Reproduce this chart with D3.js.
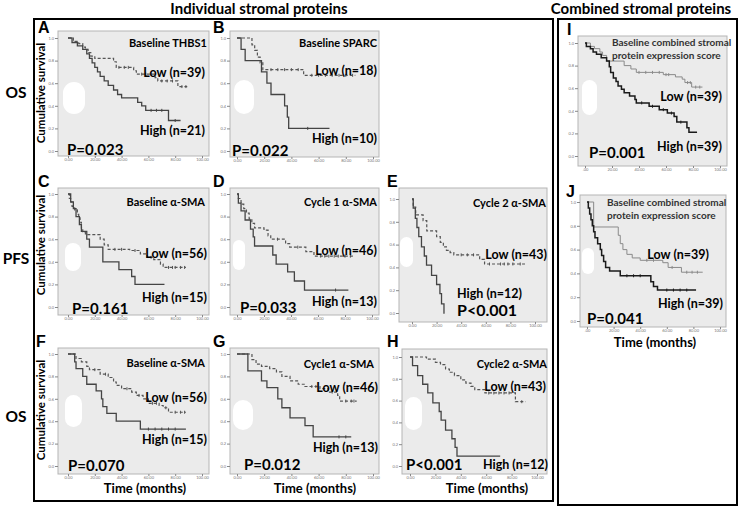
<!DOCTYPE html>
<html>
<head>
<meta charset="utf-8">
<script src="https://cdn.jsdelivr.net/npm/d3@7"></script>
<style>
  body { margin: 0; background: #fff; }
  text { font-family: Lato, "Open Sans", sans-serif; font-weight: 700; }
</style>
</head>
<body>
<div id="chart"></div>
<script>
var width = 739, height = 507;

// axis ticks
var xTicks = [0, 20, 40, 60, 80, 100];
var yTicks = [0, 0.2, 0.4, 0.6, 0.8, 1.0];

// Kaplan-Meier steps: [time (months), cumulative survival], last point = end of follow-up
// A  OS  baseline THBS1
var aLow = [[0,1],[4,0.97],[8,0.95],[11,0.92],[13,0.9],[15,0.87],[17,0.84],[20,0.82],[34,0.79],[36,0.74],[49,0.71],[51,0.68],[65,0.65],[67,0.62],[82,0.57],[89,0.57]];
var aLowCens = [38,42,45,55,58,62,70,74,78,85,88];
var aHigh = [[0,1],[3,0.96],[7,0.93],[11,0.9],[14,0.86],[16,0.82],[18,0.78],[20,0.74],[22,0.7],[24,0.66],[27,0.62],[30,0.58],[34,0.54],[37,0.5],[40,0.47],[52,0.43],[55,0.4],[58,0.36],[75,0.27],[84,0.27]];
var aHighCens = [62,66,70,80];
// B  OS  baseline SPARC
var bLow = [[0,1],[11,0.94],[13,0.89],[15,0.83],[17,0.78],[19,0.72],[49,0.67],[87,0.67]];
var bLowCens = [25,30,35,40,45,55,60,65,70,75,80,85];
var bHigh = [[0,1],[3,0.9],[6,0.8],[18,0.7],[22,0.6],[25,0.5],[35,0.4],[37,0.3],[38,0.2],[68,0.2]];
var bHighCens = [52];
// C  PFS baseline a-SMA
var cLow = [[0,1],[1,0.96],[2,0.93],[3,0.89],[5,0.86],[7,0.82],[8,0.79],[9,0.75],[10,0.7],[11,0.66],[13,0.64],[24,0.6],[27,0.55],[30,0.51],[46,0.5],[54,0.47],[59,0.44],[64,0.42],[69,0.38],[71,0.35],[88,0.35]];
var cLowCens = [35,40,50,62,75,78,80,84,87];
var cHigh = [[0,1],[2,0.93],[4,0.87],[6,0.8],[8.5,0.73],[10,0.67],[14,0.6],[16,0.53],[26,0.4],[38,0.33],[47.5,0.27],[50,0.2],[72,0.2]];
var cHighCens = [];
// D  PFS cycle 1 a-SMA
var dLow = [[0,1],[1,0.96],[3,0.91],[5,0.87],[7,0.83],[9,0.78],[11,0.74],[13,0.7],[20,0.68],[23,0.63],[25,0.6],[36,0.56],[39,0.53],[51,0.49],[57,0.45],[86,0.45]];
var dLowCens = [30,45,62,65,68,72,75,80,84];
var dHigh = [[0,1],[1,0.92],[3,0.85],[6,0.77],[10,0.69],[12,0.62],[13,0.54],[26.5,0.46],[29,0.38],[37.5,0.31],[42.5,0.23],[50,0.15],[82.5,0.15]];
var dHighCens = [73];
// E  PFS cycle 2 a-SMA
var eLow = [[0,1],[1,0.93],[3,0.86],[9,0.81],[12,0.72],[20,0.67],[23,0.62],[25.5,0.58],[28,0.55],[31,0.53],[34,0.51],[55,0.47],[59,0.43],[92,0.43]];
var eLowCens = [40,45,50,63,72,75,78,82,88];
var eHigh = [[0,1],[1,0.92],[2.7,0.83],[4,0.75],[5.5,0.67],[7.7,0.58],[10,0.5],[11.8,0.42],[15.9,0.33],[20,0.25],[22.7,0.17],[24,0.08],[26,0],[26.5,0]];
var eHighCens = [];
// F  OS  baseline a-SMA
var fLow = [[0,1],[6,0.96],[10,0.93],[14,0.89],[16,0.86],[24,0.82],[30,0.79],[34,0.75],[36,0.72],[40,0.69],[47.5,0.66],[51,0.63],[56,0.6],[60,0.56],[68,0.54],[71,0.52],[75,0.48],[88,0.48]];
var fLowCens = [20,28,44,53,63,66,73,80,84,87];
var fHigh = [[0,1],[5,0.93],[6,0.87],[11,0.8],[14,0.73],[21,0.67],[25,0.6],[26,0.53],[29,0.47],[36,0.4],[54,0.33],[88,0.33]];
var fHighCens = [60,65,70,75,80];
// G  OS  cycle 1 a-SMA
var gLow = [[0,1],[11,0.95],[14,0.91],[18,0.89],[24,0.87],[29,0.84],[33,0.8],[39,0.76],[45,0.73],[50,0.71],[61,0.69],[67,0.66],[74,0.63],[75.5,0.58],[88,0.58]];
var gLowCens = [55,58,70,80,84,86];
var gHigh = [[0,1],[8,0.85],[18,0.76],[22,0.7],[30,0.6],[33,0.52],[39,0.43],[50,0.36],[56,0.26],[84,0.26]];
var gHighCens = [75,80];
// H  OS  cycle 2 a-SMA
var hLow = [[0,1],[13,0.98],[20,0.95],[24,0.93],[28,0.89],[31,0.86],[35,0.83],[40,0.79],[44,0.76],[48,0.73],[51,0.7],[59,0.67],[83,0.59],[91,0.59]];
var hLowCens = [62,66,70,74,78,88];
var hHigh = [[0,1],[2,0.92],[6,0.83],[10,0.75],[14,0.67],[18,0.58],[23,0.5],[24.5,0.42],[28,0.33],[33,0.25],[35.5,0.17],[37,0.09],[71,0.09]];
var hHighCens = [];
// I  OS  combined score
var iLow = [[0,1],[4,0.97],[7,0.95],[11,0.92],[13,0.89],[16,0.84],[29,0.8],[34,0.77],[38,0.74],[58,0.72],[67,0.7],[72,0.68],[74,0.65],[79,0.61],[87,0.61]];
var iLowCens = [40,45,50,55,60,62,76,78,82,85];
var iHigh = [[0,1],[1,0.97],[4,0.95],[6,0.92],[8.5,0.9],[12,0.87],[16,0.84],[18,0.79],[19,0.74],[21,0.69],[23,0.66],[24.5,0.62],[27,0.59],[29,0.56],[33,0.53],[37,0.5],[38,0.47],[47.5,0.44],[55,0.41],[61,0.38],[66,0.35],[68,0.3],[75.5,0.25],[77,0.21],[83,0.21]];
var iHighCens = [42,50,58,64,71];
// J  PFS combined score
var jLow = [[0,1],[5,0.79],[23.5,0.72],[25,0.65],[27,0.6],[30,0.56],[34,0.53],[40,0.51],[57,0.49],[61,0.45],[71,0.41],[87,0.41]];
var jLowCens = [45,50,64,75,79,83];
var jHigh = [[0,1],[1,0.95],[2,0.9],[3,0.85],[4,0.8],[5,0.75],[6,0.7],[8,0.65],[10,0.6],[11,0.55],[12.5,0.5],[14,0.45],[17,0.42],[25,0.38],[48,0.33],[50,0.29],[53,0.26],[82,0.26]];
var jHighCens = [30,35,40,60,65,70,75];

var panels = [
  {letter:'A', at:[38,33], box:[58,31,209,156], xr:[68,202], yr:[38,151], blob:[63,82,22,32],
   title:['Baseline THBS1'], titleAt:[207,47,'end'], lowTxt:'Low (n=39)', lowAt:[205,77], highTxt:'High (n=21)', highAt:[205,135],
   pTxt:'P=0.023', pAt:[67,155], low:aLow, lowC:aLowCens, high:aHigh, highC:aHighCens},
  {letter:'B', at:[213,33], box:[230,31,379,157], xr:[237,373], yr:[38,151], blob:[234,80,20,34],
   title:['Baseline SPARC'], titleAt:[377,47,'end'], lowTxt:'Low (n=18)', lowAt:[377,75], highTxt:'High (n=10)', highAt:[377,143],
   pTxt:'P=0.022', pAt:[232,156], low:bLow, lowC:bLowCens, high:bHigh, highC:bHighCens},
  {letter:'C', at:[38,187], box:[58,188,209,315], xr:[68,202], yr:[194,307], blob:[65,243,16,28],
   title:['Baseline \u03b1-SMA'], titleAt:[205,206,'end'], lowTxt:'Low (n=56)', lowAt:[207,258], highTxt:'High (n=15)', highAt:[207,302],
   pTxt:'P=0.161', pAt:[72,314], low:cLow, lowC:cLowCens, high:cHigh, highC:cHighCens},
  {letter:'D', at:[213,187], box:[230,188,379,315], xr:[237,372], yr:[194,307], blob:[233,240,12,30],
   title:['Cycle 1 \u03b1-SMA'], titleAt:[377,206,'end'], lowTxt:'Low (n=46)', lowAt:[377,255], highTxt:'High (n=13)', highAt:[377,306],
   pTxt:'P=0.033', pAt:[240,313], low:dLow, lowC:dLowCens, high:dHigh, highC:dHighCens},
  {letter:'E', at:[387,187], box:[399,188,547,322], xr:[412,535], yr:[199,313], blob:[400,237,13,30],
   title:['Cycle 2 \u03b1-SMA'], titleAt:[546,207,'end'], lowTxt:'Low (n=43)', lowAt:[547,259], highTxt:'High (n=12)', highAt:[457,298],
   pTxt:'P<0.001', pAt:[457,316], pBig:true, low:eLow, lowC:eLowCens, high:eHigh, highC:eHighCens},
  {letter:'F', at:[36,347], box:[58,348,209,474], xr:[68,202], yr:[354,466], blob:[65,395,17,32],
   title:['Baseline \u03b1-SMA'], titleAt:[205,367,'end'], lowTxt:'Low (n=56)', lowAt:[207,402], highTxt:'High (n=15)', highAt:[207,444],
   pTxt:'P=0.070', pAt:[68,471], low:fLow, lowC:fLowCens, high:fHigh, highC:fHighCens, xlab:145},
  {letter:'G', at:[213,347], box:[230,348,379,474], xr:[237,373], yr:[354,466], blob:[233,400,20,30],
   title:['Cycle1 \u03b1-SMA'], titleAt:[374,368,'end'], lowTxt:'Low (n=46)', lowAt:[378,392], highTxt:'High (n=13)', highAt:[378,452],
   pTxt:'P=0.012', pAt:[244,470], low:gLow, lowC:gLowCens, high:gHigh, highC:gHighCens, xlab:315},
  {letter:'H', at:[387,347], box:[402,349,547,474], xr:[410,537], yr:[357,466], blob:[405,397,17,33],
   title:['Cycle2 \u03b1-SMA'], titleAt:[547,368,'end'], lowTxt:'Low (n=43)', lowAt:[546,391], highTxt:'High (n=12)', highAt:[548,469],
   pTxt:'P<0.001', pAt:[406,470], low:hLow, lowC:hLowCens, high:hHigh, highC:hHighCens, xlab:487},
  {letter:'I', at:[567,35], box:[578,36,727,166], xr:[585,720], yr:[43,156], blob:[582,80,15,35],
   title:['Baseline combined stromal','protein expression score'], titleAt:[612,46,'start'], lowTxt:'Low (n=39)', lowAt:[722,101], highTxt:'High (n=39)', highAt:[722,151],
   pTxt:'P=0.001', pAt:[589,158], low:iLow, lowC:iLowCens, high:iHigh, highC:iHighCens, comb:true},
  {letter:'J', at:[566,197], box:[580,195,726,327], xr:[587,720], yr:[202,321], blob:[582,248,12,26],
   title:['Baseline combined stromal','protein expression score'], titleAt:[607,206,'start'], lowTxt:'Low (n=39)', lowAt:[709,259], highTxt:'High (n=39)', highAt:[723,308],
   pTxt:'P=0.041', pAt:[587,324], low:jLow, lowC:jLowCens, high:jHigh, highC:jHighCens, comb:true, xlab:655}
];

var svg = d3.select('#chart').append('svg')
  .attr('width', width)
  .attr('height', height);

// Frames
svg.append('rect')
  .attr('x', 34).attr('y', 19).attr('width', 519).attr('height', 482)
  .attr('fill', 'none').attr('stroke', '#000').attr('stroke-width', 2);
svg.append('rect')
  .attr('x', 558).attr('y', 19).attr('width', 179).attr('height', 486)
  .attr('fill', 'none').attr('stroke', '#000').attr('stroke-width', 2);

// Headers
svg.append('text').attr('x', 259).attr('y', 14).attr('text-anchor', 'middle')
  .style('font-size', '15px').text('Individual stromal proteins');
svg.append('text').attr('x', 641).attr('y', 14).attr('text-anchor', 'middle')
  .style('font-size', '15px').text('Combined stromal proteins');

// Row labels
[['OS', 98], ['PFS', 264], ['OS', 422]].forEach(function(r) {
  svg.append('text').attr('x', 16).attr('y', r[1]).attr('text-anchor', 'middle')
    .style('font-size', '15.5px').text(r[0]);
});

// Y axis titles
[93, 245, 410].forEach(function(cy) {
  svg.append('text')
    .attr('transform', 'translate(45,' + cy + ') rotate(-90)')
    .attr('text-anchor', 'middle')
    .style('font-size', '11.5px')
    .text('Cumulative survival');
});

function sAt(series, t) {
  var s = series[0][1];
  series.forEach(function(d) { if (d[0] <= t) s = d[1]; });
  return s;
}

panels.forEach(function(p) {
  var g = svg.append('g');
  var x = d3.scaleLinear().domain([0, 100]).range(p.xr);
  var y = d3.scaleLinear().domain([0, 1]).range([p.yr[1], p.yr[0]]);

  g.append('rect')
    .attr('x', p.box[0]).attr('y', p.box[1])
    .attr('width', p.box[2] - p.box[0]).attr('height', p.box[3] - p.box[1])
    .attr('fill', '#ebebeb').attr('stroke', '#b5b5b5').attr('stroke-width', 1);

  // white blot in the scan
  g.append('rect')
    .attr('x', p.blob[0]).attr('y', p.blob[1])
    .attr('width', p.blob[2]).attr('height', p.blob[3])
    .attr('rx', p.blob[2] / 2).attr('ry', p.blob[2] / 2)
    .attr('fill', '#fff');

  // axes
  var yAxis = d3.axisLeft(y).tickValues(yTicks).tickSize(3).tickPadding(1)
    .tickFormat(d3.format('.1f'));
  var ya = g.append('g').attr('transform', 'translate(' + p.box[0] + ',0)').call(yAxis);
  var xAxis = d3.axisBottom(x).tickValues(xTicks).tickSize(2).tickPadding(0)
    .tickFormat(function(d) { return (p.comb && d === 0) ? '.00' : d3.format('.2f')(d); });
  var xa = g.append('g').attr('transform', 'translate(0,' + p.box[3] + ')').call(xAxis);
  [ya, xa].forEach(function(a) {
    a.select('.domain').remove();
    a.selectAll('line').attr('stroke', '#888');
    a.selectAll('text').attr('fill', '#777').style('font-size', '4px').style('font-weight', 400);
  });

  var line = d3.line()
    .x(function(d) { return x(d[0]); })
    .y(function(d) { return y(d[1]); })
    .curve(d3.curveStepAfter);

  var lowColor = p.comb ? '#8a8a8a' : '#555';
  var highColor = p.comb ? '#1a1a1a' : '#444';

  g.append('path').datum(p.low).attr('d', line)
    .attr('fill', 'none').attr('stroke', lowColor)
    .attr('stroke-width', p.comb ? 1 : 1.2)
    .attr('stroke-dasharray', p.comb ? null : '3,2');
  g.append('path').datum(p.high).attr('d', line)
    .attr('fill', 'none').attr('stroke', highColor)
    .attr('stroke-width', p.comb ? 1.5 : 1.3);

  // censor marks
  g.selectAll('.cl').data(p.lowC).enter().append('line')
    .attr('x1', function(t) { return x(t); }).attr('x2', function(t) { return x(t); })
    .attr('y1', function(t) { return y(sAt(p.low, t)) - 1.5; })
    .attr('y2', function(t) { return y(sAt(p.low, t)) + 1.5; })
    .attr('stroke', lowColor).attr('stroke-width', 1);
  g.selectAll('.ch').data(p.highC).enter().append('line')
    .attr('x1', function(t) { return x(t); }).attr('x2', function(t) { return x(t); })
    .attr('y1', function(t) { return y(sAt(p.high, t)) - 1.5; })
    .attr('y2', function(t) { return y(sAt(p.high, t)) + 1.5; })
    .attr('stroke', highColor).attr('stroke-width', 1);

  // texts
  g.append('text').attr('x', p.at[0]).attr('y', p.at[1])
    .style('font-family', '"Liberation Sans", Arial, sans-serif')
    .style('font-size', '16px').text(p.letter);

  p.title.forEach(function(t, i) {
    g.append('text').attr('x', p.titleAt[0]).attr('y', p.titleAt[1] + i * 13)
      .attr('text-anchor', p.titleAt[2])
      .style('font-size', p.comb ? '10px' : '11px')
      .attr('fill', p.comb ? '#333' : '#000')
      .text(t);
  });
  g.append('text').attr('x', p.lowAt[0]).attr('y', p.lowAt[1]).attr('text-anchor', 'end')
    .style('font-size', '12.5px').text(p.lowTxt);
  g.append('text').attr('x', p.highAt[0]).attr('y', p.highAt[1])
    .attr('text-anchor', p.letter === 'E' ? 'start' : 'end')
    .style('font-size', '12.5px').text(p.highTxt);
  g.append('text').attr('x', p.pAt[0]).attr('y', p.pAt[1])
    .style('font-size', p.pBig ? '16px' : '15px').text(p.pTxt);

  if (p.xlab) {
    g.append('text').attr('x', p.xlab).attr('y', p.comb ? 347 : 493)
      .attr('text-anchor', 'middle')
      .style('font-size', '13px').text('Time (months)');
  }
});
</script>
</body>
</html>
